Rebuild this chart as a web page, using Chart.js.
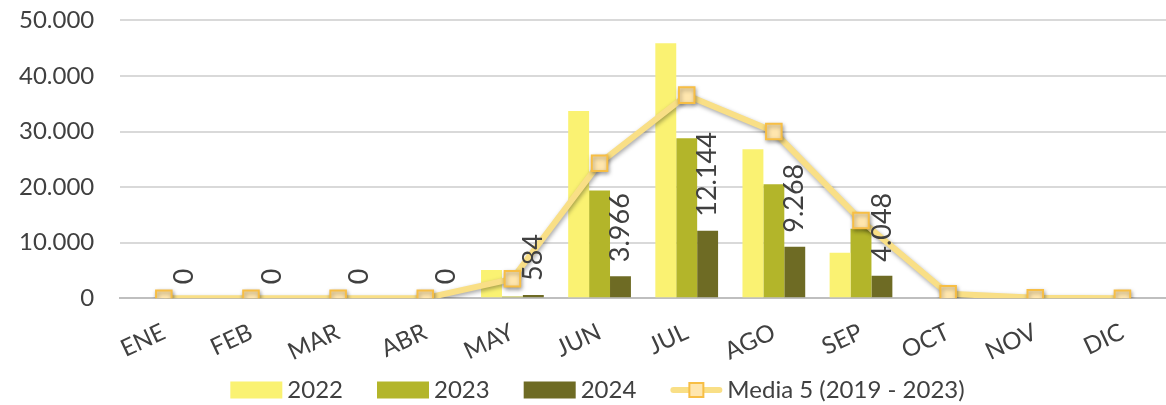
<!DOCTYPE html>
<html lang="es">
<head>
  <meta charset="UTF-8">
  <title>Capturas mensuales</title>
  <script src="https://cdn.jsdelivr.net/npm/chart.js"></script>
  <style>
    html, body { margin: 0; padding: 0; background: #fff; }
    #wrap { width: 1166px; height: 405px; }
  </style>
</head>
<body>
  <div id="wrap"><canvas id="chart"></canvas></div>

  <script>
    // datos
    const meses = ['ENE', 'FEB', 'MAR', 'ABR', 'MAY', 'JUN', 'JUL', 'AGO', 'SEP', 'OCT', 'NOV', 'DIC'];
    const v2022 = [0, 0, 0, 0, 5100, 33700, 45900, 26800, 8200, 0, 0, 0];
    const v2023 = [0, 0, 0, 0, 300, 19400, 28800, 20500, 12500, 200, 0, 0];
    const v2024 = [0, 0, 0, 0, 584, 3966, 12144, 9268, 4048, null, null, null];
    const media5 = [0, 0, 0, 0, 3500, 24300, 36550, 30000, 14000, 800, 100, 0];
    const yTicks = [0, 10000, 20000, 30000, 40000, 50000];

    const FONT = 'Lato, "Noto Sans", sans-serif';
    const TEXT = '#404040';
    const COLORES = ['#FAF272', '#B3B52A', '#6E6B24'];
    const LINEA = '#F9DF86';

    // leyenda: caja dibujada a mano dentro del hueco de cada elemento
    const BOX_OFF = 34, BOX_W = 52, BOX_H = 17, TXT_GAP = 5;
    const LEG_SHIFT = -9;

    const fmt = n => String(n).replace(/\B(?=(\d{3})+(?!\d))/g, '.');

    // sombra suave bajo la linea de la media
    const lineShadow = {
      id: 'lineShadow',
      beforeDatasetDraw(chart, args) {
        if (args.index !== 3) return;
        const ctx = chart.ctx;
        ctx.save();
        ctx.shadowColor = 'rgba(0,0,0,0.35)';
        ctx.shadowBlur = 4;
        ctx.shadowOffsetX = 1;
        ctx.shadowOffsetY = 2;
      },
      afterDatasetDraw(chart, args) {
        if (args.index !== 3) return;
        chart.ctx.restore();
      }
    };

    // etiquetas verticales sobre las barras de 2024 + muestras de la leyenda
    const extras = {
      id: 'extras',
      afterLayout(chart) {
        chart.legend.left += LEG_SHIFT;
        chart.legend.right += LEG_SHIFT;
      },
      afterDraw(chart) {
        const ctx = chart.ctx;
        const meta = chart.getDatasetMeta(2);
        ctx.save();
        ctx.font = '27px ' + FONT;
        ctx.fillStyle = TEXT;
        ctx.textAlign = 'left';
        ctx.textBaseline = 'middle';
        meta.data.forEach((bar, i) => {
          const v = v2024[i];
          if (v === null) return;
          ctx.save();
          ctx.translate(bar.x, bar.y - 14);
          ctx.rotate(-Math.PI / 2);
          ctx.fillText(fmt(v), 0, 0);
          ctx.restore();
        });
        ctx.restore();

        chart.legend.legendHitBoxes.forEach((hb, i) => {
          const cy = hb.top + hb.height / 2;
          const x0 = hb.left + BOX_OFF, x1 = x0 + BOX_W;
          ctx.save();
          if (i < 3) {
            ctx.fillStyle = COLORES[i];
            ctx.fillRect(x0, cy - BOX_H / 2, BOX_W, BOX_H);
          } else {
            ctx.strokeStyle = LINEA;
            ctx.lineWidth = 6;
            ctx.lineCap = 'round';
            ctx.beginPath();
            ctx.moveTo(x0 + 3, cy);
            ctx.lineTo(x1 - 3, cy);
            ctx.stroke();
            ctx.fillStyle = '#FFE6AE';
            ctx.strokeStyle = '#F7BE45';
            ctx.lineWidth = 2;
            const s = 14;
            ctx.fillRect((x0 + x1) / 2 - s / 2, cy - s / 2, s, s);
            ctx.strokeRect((x0 + x1) / 2 - s / 2, cy - s / 2, s, s);
          }
          ctx.restore();
        });
      }
    };

    new Chart(document.getElementById('chart'), {
      type: 'bar',
      data: {
        labels: meses,
        datasets: [
          { label: '2022', data: v2022, backgroundColor: COLORES[0], order: 1 },
          { label: '2023', data: v2023, backgroundColor: COLORES[1], order: 1 },
          { label: '2024', data: v2024, backgroundColor: COLORES[2], order: 1 },
          {
            label: 'Media 5 (2019 - 2023)',
            type: 'line',
            data: media5,
            borderColor: LINEA,
            borderWidth: 6,
            backgroundColor: '#FFE6AE',
            pointStyle: 'rect',
            pointRadius: 11,
            pointBorderColor: '#F7BE45',
            pointBackgroundColor: '#FFE6AE',
            pointBorderWidth: 2,
            tension: 0,
            order: 0
          }
        ]
      },
      options: {
        responsive: true,
        maintainAspectRatio: false,
        animation: false,
        layout: { autoPadding: false, padding: { top: 0, right: 0, left: 13, bottom: -7 } },
        datasets: {
          bar: { categoryPercentage: 0.72, barPercentage: 1.0 }
        },
        scales: {
          x: {
            grid: { display: false },
            border: { display: true, color: '#BFBFBF', width: 2 },
            ticks: {
              font: { family: FONT, size: 24 },
              color: TEXT,
              minRotation: 25,
              maxRotation: 25,
              padding: 11.5
            }
          },
          y: {
            min: 0,
            max: 50000,
            afterBuildTicks(axis) {
              axis.ticks = yTicks.map(v => ({ value: v }));
            },
            border: { display: false },
            grid: {
              color: '#D9D9D9',
              lineWidth: 2,
              drawTicks: true,
              tickLength: 20,
              tickColor: 'rgba(0,0,0,0)'
            },
            ticks: {
              font: { family: FONT, size: 24 },
              color: TEXT,
              padding: 6,
              callback: v => fmt(v)
            }
          }
        },
        plugins: {
          legend: {
            position: 'bottom',
            labels: {
              font: { family: FONT, size: 24 },
              color: TEXT,
              boxWidth: BOX_OFF + BOX_W + TXT_GAP - 12,
              boxHeight: BOX_H,
              padding: 0,
              generateLabels(chart) {
                return chart.data.datasets.map((ds, i) => ({
                  text: ds.label,
                  datasetIndex: i,
                  fillStyle: 'rgba(0,0,0,0)',
                  strokeStyle: 'rgba(0,0,0,0)',
                  lineWidth: 0,
                  fontColor: TEXT,
                  hidden: false
                }));
              }
            }
          },
          tooltip: { enabled: false }
        }
      },
      plugins: [lineShadow, extras]
    });
  </script>
</body>
</html>
